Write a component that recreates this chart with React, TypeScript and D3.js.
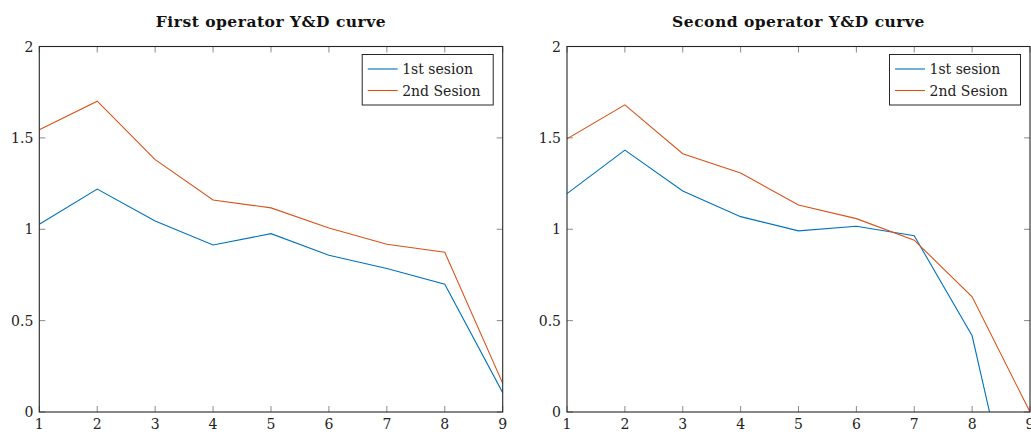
import React from "react";
import * as d3 from "d3";

const xValues = [1, 2, 3, 4, 5, 6, 7, 8, 9];
const op1Session1 = [1.027, 1.22, 1.045, 0.914, 0.976, 0.858, 0.785, 0.699, 0.106];
const op1Session2 = [1.545, 1.701, 1.381, 1.16, 1.117, 1.007, 0.918, 0.874, 0.157];
const op2Session1 = [1.195, 1.433, 1.209, 1.069, 0.991, 1.016, 0.964, 0.417, -0.97];
const op2Session2 = [1.495, 1.681, 1.413, 1.308, 1.133, 1.058, 0.94, 0.63, 0.0];
const yTicks = [0, 0.5, 1, 1.5, 2];
const yTickLabels = ["0", "0.5", "1", "1.5", "2"];
const seriesNames = ["1st sesion", "2nd Sesion"];
const seriesColors = ["#0072BD", "#D95319"];
const titles = ["First operator Y\u0026D curve", "Second operator Y\u0026D curve"];

const W = 1031;
const H = 434;
const FONT = "'DejaVu Serif', serif";

type PanelProps = {
  id: string;
  left: number;
  right: number;
  title: string;
  series: number[][];
};

function Panel({ id, left, right, title, series }: PanelProps) {
  const top = 46.5;
  const bottom = 412;
  const x = d3.scaleLinear().domain([1, 9]).range([left, right]);
  const y = d3.scaleLinear().domain([0, 2]).range([bottom, top]);
  const line = d3
    .line<number>()
    .x((_, i) => x(xValues[i]))
    .y((d) => y(d));
  const tickLen = 6;
  const legX = right - 140.5;
  const legY = 54.5;
  return (
    <g>
      <defs>
        <clipPath id={id}>
          <rect x={left} y={top} width={right - left} height={bottom - top} />
        </clipPath>
      </defs>
      <text
        x={(left + right) / 2}
        y={27}
        textAnchor="middle"
        fontFamily={FONT}
        fontWeight="bold"
        fontSize={15.5}
        letterSpacing={0.5}
        fill="#111"
      >
        {title}
      </text>
      {/* ticks */}
      {xValues.map((v) => (
        <g key={"xt" + v} stroke="#8a8a8a" strokeWidth={1}>
          <line x1={x(v)} x2={x(v)} y1={bottom} y2={bottom - tickLen} />
          <line x1={x(v)} x2={x(v)} y1={top} y2={top + tickLen} />
        </g>
      ))}
      {yTicks.map((v) => (
        <g key={"yt" + v} stroke="#8a8a8a" strokeWidth={1}>
          <line x1={left} x2={left + tickLen} y1={y(v)} y2={y(v)} />
          <line x1={right} x2={right - tickLen} y1={y(v)} y2={y(v)} />
        </g>
      ))}
      {/* series */}
      <g clipPath={`url(#${id})`}>
        {series.map((s, i) => (
          <path
            key={i}
            d={line(s) || ""}
            fill="none"
            stroke={seriesColors[i]}
            strokeWidth={1.1}
          />
        ))}
      </g>
      {/* frame */}
      <rect
        x={left}
        y={top}
        width={right - left}
        height={bottom - top}
        fill="none"
        stroke="#262626"
        strokeWidth={1.1}
      />
      {/* labels */}
      {xValues.map((v) => (
        <text
          key={"xl" + v}
          x={x(v)}
          y={429}
          textAnchor="middle"
          fontFamily={FONT}
          fontSize={14}
          fill="#222"
        >
          {v}
        </text>
      ))}
      {yTicks.map((v, i) => (
        <text
          key={"yl" + v}
          x={left - 6}
          y={y(v) + 5}
          textAnchor="end"
          fontFamily={FONT}
          fontSize={14}
          fill="#222"
        >
          {yTickLabels[i]}
        </text>
      ))}
      {/* legend */}
      <rect
        x={legX}
        y={legY}
        width={131}
        height={50.5}
        fill="#fff"
        stroke="#262626"
        strokeWidth={1}
      />
      {seriesNames.map((n, i) => (
        <g key={n}>
          <line
            x1={legX + 5.5}
            x2={legX + 35.5}
            y1={legY + 14.5 + i * 21.5}
            y2={legY + 14.5 + i * 21.5}
            stroke={seriesColors[i]}
            strokeWidth={1.1}
          />
          <text
            x={legX + 40}
            y={legY + 19.5 + i * 21.5}
            fontFamily={FONT}
            fontSize={14}
            fill="#222"
          >
            {n}
          </text>
        </g>
      ))}
    </g>
  );
}

export default function App() {
  return (
    <svg
      width={W}
      height={H}
      style={{ position: "absolute", left: 0, top: 0, background: "#fff" }}
    >
      <rect x={0} y={0} width={W} height={H} fill="#fff" />
      <Panel
        id="clipA"
        left={39.3}
        right={502.7}
        title={titles[0]}
        series={[op1Session1, op1Session2]}
      />
      <Panel
        id="clipB"
        left={567}
        right={1030}
        title={titles[1]}
        series={[op2Session1, op2Session2]}
      />
    </svg>
  );
}
